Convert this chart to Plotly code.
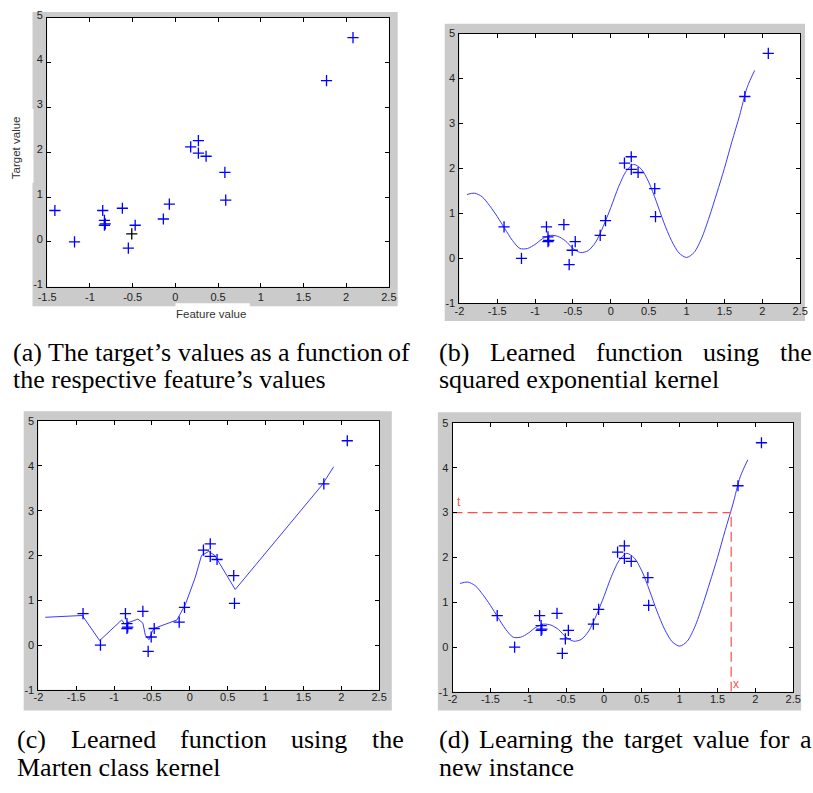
import plotly.graph_objects as go

# ---- data -------------------------------------------------------------
# observed (feature, target) pairs
POINT_X = [-1.41, -1.18, -0.85, -0.83, -0.82, -0.83, -0.62, -0.55, -0.51, -0.47,
           -0.14, -0.07, 0.18, 0.27, 0.27, 0.36, 0.58, 0.59, 1.77, 2.08]
POINT_Y = [0.70, 0.00, 0.70, 0.48, 0.40, 0.37, 0.75, -0.14, 0.18, 0.37,
           0.51, 0.84, 2.12, 2.26, 1.98, 1.91, 1.55, 0.93, 3.60, 4.56]
DARK_POINT = 8  # the one point drawn in black in the raw-data panel

# GP mean with squared exponential kernel
SE_X = [-1.9, -1.8, -1.7, -1.6, -1.5, -1.4, -1.3, -1.2, -1.1, -1.0,
        -0.9, -0.8, -0.7, -0.6, -0.5, -0.4, -0.3, -0.2, -0.1, 0.0,
        0.1, 0.2, 0.3, 0.4, 0.5, 0.6, 0.7, 0.8, 0.9, 1.0,
        1.1, 1.2, 1.3, 1.4, 1.5, 1.6, 1.7, 1.8, 1.9]
SE_Y = [1.42, 1.45, 1.37, 1.17, 0.93, 0.66, 0.40, 0.22, 0.22, 0.31,
        0.44, 0.51, 0.49, 0.39, 0.22, 0.13, 0.17, 0.36, 0.71, 1.13,
        1.58, 1.93, 2.09, 1.99, 1.70, 1.27, 0.80, 0.40, 0.12, 0.02,
        0.13, 0.45, 0.92, 1.45, 2.00, 2.60, 3.17, 3.80, 4.18]

# GP mean with Matern class kernel
MATERN_X = [-1.91, -1.42, -1.19, -0.90, -0.86, -0.685, -0.62, -0.587, -0.54,
            -0.49, -0.457, -0.17, -0.06, 0.07, 0.155, 0.25, 0.33, 0.60, 1.75, 1.90]
MATERN_Y = [0.62, 0.66, 0.10, 0.56, 0.47, 0.58, 0.49, 0.22, 0.12,
            0.33, 0.38, 0.56, 0.90, 1.50, 2.00, 2.09, 2.00, 1.24, 3.58, 3.98]

# new instance x and its predicted target t
NEW_X = 1.68
NEW_T = 3.0

X_TICKS_A = [-1.5, -1, -0.5, 0, 0.5, 1, 1.5, 2, 2.5]
X_TICKS = [-2, -1.5, -1, -0.5, 0, 0.5, 1, 1.5, 2, 2.5]
Y_TICKS = [-1, 0, 1, 2, 3, 4, 5]

CAPTIONS = {
    "a": ["(a) The target’s values as a function of", "the respective feature’s values"],
    "b": ["(b) Learned function using the", "squared exponential kernel"],
    "c": ["(c) Learned function using the", "Marten class kernel"],
    "d": ["(d) Learning the target value for a", "new instance"],
}

# ---- geometry (pixels) ------------------------------------------------
W, H = 813, 793
BLUE = "#0000ff"
LINE_BLUE = "#3a3aff"
RED = "#ff4d4d"
GRAY = "#cbcbcb"

# panel: gray frame box, plot box, x range
PANELS = {
    "a": dict(frame=(24, 3, 397, 303), plot=(39, 9, 388, 283), xr=[-1.5, 2.5]),
    "b": dict(frame=(445, 15, 813, 318), plot=(460, 25, 808, 300), xr=[-2, 2.5]),
    "c": dict(frame=(15, 410, 391, 715), plot=(30, 420, 378, 694), xr=[-2, 2.5]),
    "d": dict(frame=(438, 411, 809, 715), plot=(453, 422, 801, 696), xr=[-2, 2.5]),
}


def px(x):
    return x / W


def py(y):
    return 1 - y / H


def tick_text(v):
    return ("%g" % v)


fig = go.Figure()
shapes = []
annotations = []

for i, (key, p) in enumerate(PANELS.items()):
    n = "" if i == 0 else str(i + 1)
    fx0, fy0, fx1, fy1 = p["frame"]
    x0, y0, x1, y1 = p["plot"]
    shapes.append(dict(type="rect", xref="paper", yref="paper", layer="below",
                       x0=px(fx0), x1=px(fx1), y0=py(fy1), y1=py(fy0),
                       fillcolor=GRAY, line=dict(width=0)))
    shapes.append(dict(type="rect", xref="paper", yref="paper", layer="below",
                       x0=px(x0), x1=px(x1), y0=py(y1), y1=py(y0),
                       fillcolor="white", line=dict(width=0)))
    xt = X_TICKS_A if key == "a" else X_TICKS
    axis_common = dict(showline=True, linecolor="black", linewidth=1, mirror="ticks",
                       ticks="inside", ticklen=4, tickcolor="black", tickwidth=1,
                       showgrid=False, zeroline=False, fixedrange=True,
                       tickfont=dict(family="Liberation Sans, Arial, sans-serif",
                                     size=11, color="#222222"))
    fig.layout["xaxis" + n] = dict(domain=[px(x0), px(x1)], range=p["xr"],
                                   anchor="y" + n, tickvals=xt,
                                   ticktext=[tick_text(v) for v in xt],
                                   ticklabelstandoff=(0 if key == "a" else -3),
                                   **axis_common)
    fig.layout["yaxis" + n] = dict(domain=[py(y1), py(y0)], range=[-1, 5],
                                   anchor="x" + n, tickvals=Y_TICKS,
                                   ticktext=[tick_text(v) for v in Y_TICKS],
                                   ticklabelstandoff=1,
                                   ticklabelshift=(-3 if key == "a" else 0),
                                   **axis_common)

    xa, ya = "x" + n, "y" + n
    if key == "b" or key == "d":
        fig.add_trace(go.Scatter(x=SE_X, y=SE_Y, mode="lines", xaxis=xa, yaxis=ya,
                                 line=dict(color=LINE_BLUE, width=1, shape="spline",
                                           smoothing=0.8),
                                 hoverinfo="skip", showlegend=False))
    if key == "c":
        fig.add_trace(go.Scatter(x=MATERN_X, y=MATERN_Y, mode="lines", xaxis=xa,
                                 yaxis=ya, line=dict(color=LINE_BLUE, width=1),
                                 hoverinfo="skip", showlegend=False))
    if key == "d":
        fig.add_trace(go.Scatter(x=[p["xr"][0], NEW_X], y=[NEW_T, NEW_T], mode="lines",
                                 xaxis=xa, yaxis=ya,
                                 line=dict(color=RED, width=1.2, dash="10px,5px"),
                                 hoverinfo="skip", showlegend=False))
        fig.add_trace(go.Scatter(x=[NEW_X, NEW_X], y=[-1, NEW_T], mode="lines",
                                 xaxis=xa, yaxis=ya,
                                 line=dict(color=RED, width=1.2, dash="10px,5px"),
                                 hoverinfo="skip", showlegend=False))
        annotations.append(dict(x=-1.91, y=3.23, xref=xa, yref=ya, text="t",
                                showarrow=False, xanchor="center", yanchor="middle",
                                font=dict(family="Liberation Sans, Arial", size=12,
                                          color=RED)))
        annotations.append(dict(x=NEW_X + 0.065, y=-0.82, xref=xa, yref=ya, text="x",
                                showarrow=False, xanchor="center", yanchor="middle",
                                font=dict(family="Liberation Sans, Arial", size=12,
                                          color=RED)))
    colors = [("black" if (key == "a" and k == DARK_POINT) else BLUE)
              for k in range(len(POINT_X))]
    fig.add_trace(go.Scatter(x=POINT_X, y=POINT_Y, mode="markers", xaxis=xa, yaxis=ya,
                             marker=dict(symbol="cross-thin", size=8,
                                         line=dict(color=colors, width=1.3)),
                             hoverinfo="skip", showlegend=False, cliponaxis=False))

# axis labels of the raw-data panel, each on a white patch
shapes.append(dict(type="rect", xref="paper", yref="paper", layer="below",
                   x0=px(10), x1=px(25), y0=py(177), y1=py(102),
                   fillcolor="white", line=dict(width=0)))
shapes.append(dict(type="rect", xref="paper", yref="paper", layer="below",
                   x0=px(170), x1=px(246), y0=py(320), y1=py(300),
                   fillcolor="white", line=dict(width=0)))
LABEL_FONT = dict(family="Liberation Sans, Arial, sans-serif", size=11.5, color="#333333")
annotations.append(dict(x=px(8), y=py(141), xref="paper", yref="paper",
                        text="Target value", textangle=-90, showarrow=False,
                        xanchor="center", yanchor="middle", font=LABEL_FONT))
annotations.append(dict(x=px(206), y=py(311), xref="paper", yref="paper",
                        text="Feature value", showarrow=False,
                        xanchor="center", yanchor="middle", font=LABEL_FONT))

# ---- captions (justified first lines, like the typeset column) ----------
TIMES_W = {' ': 250, '(': 333, ')': 333, '’': 333, 'a': 444, 'b': 500, 'c': 444,
           'd': 500, 'e': 444, 'f': 333, 'g': 500, 'h': 500, 'i': 278, 'k': 500,
           'l': 278, 'm': 778, 'n': 500, 'o': 500, 'p': 500, 'q': 500, 'r': 333,
           's': 389, 't': 278, 'u': 500, 'v': 500, 'w': 722, 'x': 500, 'y': 500,
           'T': 611, 'L': 611, 'M': 889}
CAP_SIZE = 26
CAP_FONT = dict(family="Liberation Serif, Times New Roman, serif", size=CAP_SIZE,
                color="black")


def text_width(s):
    return sum(TIMES_W.get(c, 500) for c in s) / 1000 * CAP_SIZE


CAPTION_BOX = {  # left, right, line-1 centre, line-2 centre
    "a": (3, 408, 350, 378),
    "b": (438, 818, 350, 378),
    "c": (7, 402, 745, 773),
    "d": (438, 818, 745, 773),
}

for key, (left, right, yc1, yc2) in CAPTION_BOX.items():
    line1, line2 = CAPTIONS[key]
    words = line1.split(" ")
    natural = sum(text_width(w) for w in words)
    gap = (right - left - natural) / (len(words) - 1)
    xpos = left
    for w in words:
        annotations.append(dict(x=px(xpos), y=py(yc1), xref="paper", yref="paper",
                                text=w, xanchor="left", yanchor="middle",
                                showarrow=False, font=CAP_FONT, borderpad=0))
        xpos += text_width(w) + gap
    annotations.append(dict(x=px(left), y=py(yc2), xref="paper", yref="paper",
                            text=line2, xanchor="left", yanchor="middle",
                            showarrow=False, font=CAP_FONT, borderpad=0))

fig.update_layout(width=W, height=H, margin=dict(l=0, r=0, t=0, b=0),
                  paper_bgcolor="white", plot_bgcolor="rgba(0,0,0,0)",
                  shapes=shapes, annotations=annotations, showlegend=False)

fig.write_html("out.html", config={"displayModeBar": False})
